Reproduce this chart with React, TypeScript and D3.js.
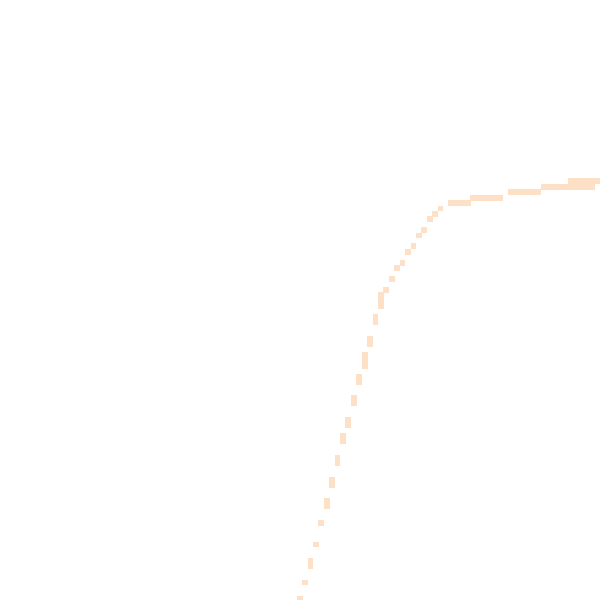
import React from "react";
import * as d3 from "d3";

// Grid cells that make up the curve (column index, row index)
const cellCol: number[] = [
  54, 55, 56, 56, 57, 58, 59, 59, 60, 60, 61, 61, 62, 62, 63, 63, 64, 64,
  65, 65, 66, 66, 66, 67, 67, 68, 68, 69, 69, 69, 70, 71, 72, 73, 74, 75,
  76, 77, 78, 79, 80,
  82, 83, 84, 85,
  86, 87, 88, 89, 90, 91,
  93, 94, 95, 96, 97, 98,
  99, 100, 101, 102, 103,
  104, 105, 106, 107, 108,
  104, 105, 106, 107, 108,
  109,
];
const cellRow: number[] = [
  109, 106, 102, 103, 99, 95, 91, 92, 87, 88, 83, 84, 79, 80, 76, 77, 72, 73,
  68, 69, 64, 65, 66, 61, 62, 57, 58, 53, 54, 55, 52, 50, 48, 47, 45, 44,
  42, 41, 39, 38, 37,
  36, 36, 36, 36,
  35, 35, 35, 35, 35, 35,
  34, 34, 34, 34, 34, 34,
  33, 33, 33, 33, 33,
  32, 32, 32, 32, 32,
  33, 33, 33, 33, 33,
  32,
];

const gridCols = 110;
const gridRows = 111;

export default function App() {
  const width = 600;
  const height = 600;
  const cell = 5.42;
  const x = d3
    .scaleBand<number>()
    .domain(d3.range(gridCols))
    .range([4, 4 + gridCols * cell])
    .padding(0);
  const y = d3
    .scaleBand<number>()
    .domain(d3.range(gridRows))
    .range([5, 5 + gridRows * cell])
    .padding(0);

  const cells = cellCol.map((c, i) => ({ c, r: cellRow[i] }));

  return (
    <svg
      width={width}
      height={height}
      style={{ position: "absolute", left: 0, top: 0, background: "#fff" }}
    >
      <g>
        {cells.map((d, i) => (
          <rect
            key={i}
            x={x(d.c)!}
            y={y(d.r)!}
            width={x.bandwidth() + 0.4}
            height={y.bandwidth() + 0.4}
            fill="#fde0c6"
            shapeRendering="crispEdges"
          />
        ))}
      </g>
    </svg>
  );
}
